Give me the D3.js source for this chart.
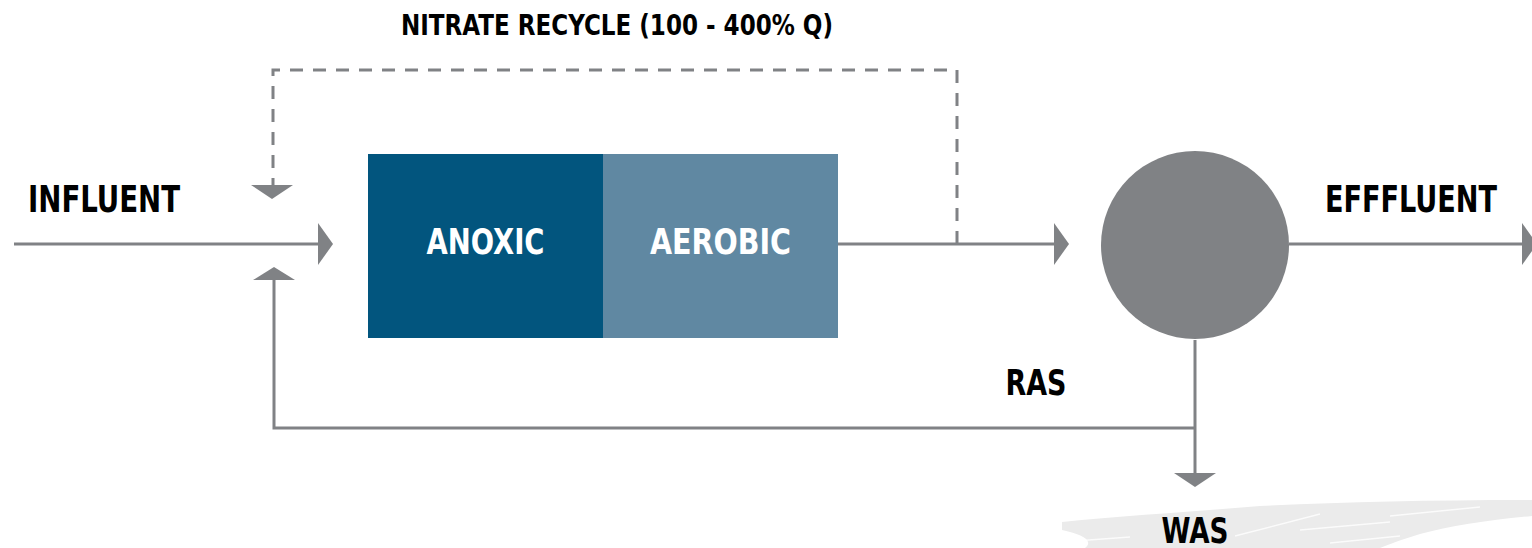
<!DOCTYPE html>
<html lang="en">
  <head>
    <meta charset="utf-8">
    <title>MLE process flow</title>
    <script type="text/javascript" src="https://cdn.jsdelivr.net/npm/d3@7"></script>
    <style type="text/css">
      body { margin: 0; background: #fff; }
      text {
        font-family: "DejaVu Sans Condensed", "Roboto", sans-serif;
        font-weight: bold;
      }
    </style>
  </head>
  <body>
    <script type="text/javascript">

      //Width and height
      var w = 1532;
      var h = 548;

      var stages = ["ANOXIC", "AEROBIC"];
      var stageColors = ["#02557e", "#6088a2"];
      var labels = ["NITRATE RECYCLE (100 - 400% Q)", "INFLUENT", "EFFFLUENT", "RAS", "WAS"];

      var grey = "#808285";

      var svg = d3.select("body")
            .append("svg")
            .attr("width", w)
            .attr("height", h);

      //Brush stroke behind WAS
      svg.append("path")
         .attr("d", "M1062,522 C1120,516 1190,512 1260,506 C1340,502 1430,500 1532,500 L1532,516 C1490,520 1450,526 1420,534 C1400,540 1390,544 1380,548 L1085,548 C1095,540 1080,534 1062,530 Z")
         .attr("fill", "#ebebeb");
      //white streaks
      [[1235, 536, 1320, 514], [1300, 530, 1390, 522], [1390, 516, 1480, 507], [1075, 541, 1130, 537], [1330, 543, 1400, 536]].forEach(function(s) {
        svg.append("line")
           .attr("x1", s[0]).attr("y1", s[1])
           .attr("x2", s[2]).attr("y2", s[3])
           .attr("stroke", "#fff")
           .attr("stroke-width", 1.5)
           .attr("opacity", 0.8);
      });

      var xBand = d3.scaleBand()
              .domain(stages)
              .range([368, 838]);

      var yMain = 244;

      //Flow lines
      function line(pts, dashed) {
        svg.append("path")
           .attr("d", d3.line()(pts))
           .attr("fill", "none")
           .attr("stroke", grey)
           .attr("stroke-width", 3)
           .attr("stroke-dasharray", dashed ? "13,10" : null);
      }
      function arrow(x, y, dir) {
        var p;
        if (dir === "right") p = [[x, y], [x - 15, y - 21], [x - 15, y + 21]];
        if (dir === "down") p = [[x, y], [x - 21, y - 14], [x + 21, y - 14]];
        if (dir === "up") p = [[x, y], [x - 21, y + 13], [x + 21, y + 13]];
        svg.append("path")
           .attr("d", d3.line()(p) + "Z")
           .attr("fill", grey);
      }

      line([[14, yMain], [320, yMain]]);
      arrow(333, yMain, "right");

      line([[838, yMain], [1056, yMain]]);
      arrow(1069, yMain, "right");

      line([[1289, yMain], [1522, yMain]]);
      arrow(1537, yMain, "right");

      //Nitrate recycle
      line([[957, yMain], [957, 70], [273, 70], [273, 186]], true);
      arrow(272, 199, "down");

      //RAS return
      line([[1195, 340], [1195, 474]]);
      arrow(1195, 487, "down");
      line([[1195, 428], [274, 428], [274, 279]]);
      arrow(274, 267, "up");

      //Reactor zones
      svg.selectAll("rect.stage")
         .data(stages)
         .enter()
         .append("rect")
         .attr("class", "stage")
         .attr("x", function(d) { return xBand(d); })
         .attr("y", 154)
         .attr("width", xBand.bandwidth())
         .attr("height", 184)
         .attr("fill", function(d, i) { return stageColors[i]; });

      var stageWidths = [118, 141];
      svg.selectAll("text.stage")
         .data(stages)
         .enter()
         .append("text")
         .attr("class", "stage")
         .attr("x", function(d) { return xBand(d) + xBand.bandwidth() / 2; })
         .attr("y", 254)
         .attr("text-anchor", "middle")
         .attr("font-size", 36)
         .attr("textLength", function(d, i) { return stageWidths[i]; })
         .attr("lengthAdjust", "spacingAndGlyphs")
         .attr("fill", "#fff")
         .text(function(d) { return d; });

      //Clarifier
      svg.append("circle")
         .attr("cx", 1195)
         .attr("cy", 245)
         .attr("r", 94)
         .attr("fill", grey);

      //Labels: x, baseline, size, width
      var labelPos = [[617, 35, 29, 432], [104, 212, 37, 152], [1411, 212, 37, 172], [1036, 395, 36, 61], [1195, 543, 36, 67]];
      svg.selectAll("text.label")
         .data(labels)
         .enter()
         .append("text")
         .attr("class", "label")
         .attr("x", function(d, i) { return labelPos[i][0]; })
         .attr("y", function(d, i) { return labelPos[i][1]; })
         .attr("font-size", function(d, i) { return labelPos[i][2]; })
         .attr("textLength", function(d, i) { return labelPos[i][3]; })
         .attr("lengthAdjust", "spacingAndGlyphs")
         .attr("text-anchor", "middle")
         .attr("fill", "#000")
         .text(function(d) { return d; });

    </script>
  </body>
</html>
